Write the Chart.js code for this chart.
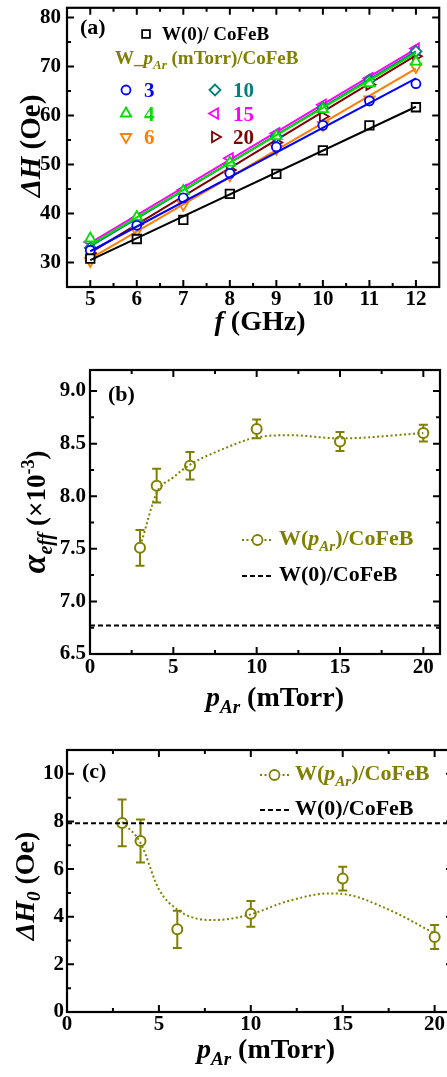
<!DOCTYPE html>
<html>
<head>
<meta charset="utf-8">
<script src="https://cdn.jsdelivr.net/npm/chart.js@4.4.1/dist/chart.umd.min.js"></script>
<style>
html, body { margin: 0; padding: 0; background: #fff; overflow: hidden; width: 447px; height: 1077px; }
canvas { position: absolute; left: 0; }
</style>
</head>
<body>
<canvas id="cA" width="447" height="340" style="top:0px"></canvas>
<canvas id="cB" width="447" height="380" style="top:340px"></canvas>
<canvas id="cC" width="460" height="357" style="top:720px"></canvas>
<script>
// ---------- data (a) : linewidth vs frequency ----------
const freq = [5, 6, 7, 8, 9, 10, 11, 12];
const fitFreq = [5, 12];
const dhW0  = [30.8, 34.8, 38.7, 44.0, 48.1, 52.9, 58.0, 61.7];
const dhP3  = [32.5, 37.6, 43.2, 48.2, 53.6, 58.0, 63.0, 66.5];
const dhP4  = [34.9, 39.3, 44.6, 50.4, 55.8, 61.3, 66.6, 71.0];
const dhP6  = [30.3, 36.4, 41.8, 47.8, 53.2, 58.1, 63.3, 69.9];
const dhP10 = [33.0, 38.5, 44.2, 50.0, 55.7, 61.6, 67.2, 73.1];
const dhP15 = [34.2, 39.0, 44.8, 51.3, 56.4, 62.2, 67.6, 73.7];
const dhP20 = [31.9, 37.8, 43.0, 48.9, 54.5, 59.8, 66.3, 72.1];
// fitted line ends (at 5 and 12 GHz)
const fitW0  = [30.5, 61.8];
const fitP3  = [32.3, 67.6];
const fitP4  = [33.6, 72.8];
const fitP6  = [30.8, 69.6];
const fitP10 = [33.3, 73.1];
const fitP15 = [34.0, 73.6];
const fitP20 = [32.0, 72.3];
const legendNums = ['3', '4', '6', '10', '15', '20'];

// ---------- data (b) and (c) : vs Ar pressure ----------
const pAr = [3, 4, 6, 10, 15, 20];
const alphaEff = [7.51, 8.10, 8.29, 8.64, 8.52, 8.60];
const alphaErr = [0.17, 0.16, 0.13, 0.09, 0.09, 0.08];
const alphaW0 = 6.77;
const alphaCurveX = [3.1, 4, 5, 6, 8, 10, 12, 15, 20];
const alphaCurveY = [7.57, 8.03, 8.18, 8.30, 8.45, 8.56, 8.58, 8.55, 8.60];
const dH0 = [7.94, 7.18, 3.47, 4.12, 5.60, 3.15];
const dH0Err = [0.98, 0.90, 0.78, 0.54, 0.50, 0.50];
const dH0W0 = 7.92;
const dH0CurveX = [3, 4, 5, 6, 7, 8, 9, 10, 12, 14.3, 15, 17.5, 20];
const dH0CurveY = [7.98, 7.10, 5.15, 4.30, 3.93, 3.86, 3.93, 4.10, 4.65, 4.98, 4.96, 4.30, 3.30];

// ticks
const ticksAx = [5, 6, 7, 8, 9, 10, 11, 12];
const minorAx = [5.5, 6.5, 7.5, 8.5, 9.5, 10.5, 11.5];
const ticksAy = [30, 40, 50, 60, 70, 80];
const minorAy = [35, 45, 55, 65, 75];
const ticksPx = [0, 5, 10, 15, 20];
const minorPx = [2.5, 7.5, 12.5, 17.5];
const ticksBy = [6.5, 7.0, 7.5, 8.0, 8.5, 9.0];
const minorBy = [6.75, 7.25, 7.75, 8.25, 8.75];
const ticksCy = [0, 2, 4, 6, 8, 10];
const minorCy = [1, 3, 5, 7, 9];

const OLIVE = '#808000';
const FONT = '"Liberation Serif", "Times New Roman", serif';
const tickFont = { family: FONT, size: 21, weight: 'bold' };

function fontOf(r) {
  return (r.i ? 'italic ' : '') + 'bold ' + r.s + 'px ' + FONT;
}

// draw a row of text runs (italic / sub / superscripts)
function drawRuns(ctx, runs, x, y, align, rot, color) {
  ctx.save();
  ctx.translate(x, y);
  if (rot) ctx.rotate(rot);
  ctx.textBaseline = 'alphabetic';
  ctx.textAlign = 'left';
  let w = 0;
  runs.forEach(r => { ctx.font = fontOf(r); r.w = ctx.measureText(r.t).width; w += r.w; });
  let cx = align === 'center' ? -w / 2 : 0;
  runs.forEach(r => {
    ctx.font = fontOf(r);
    ctx.fillStyle = r.c || color || '#000';
    ctx.fillText(r.t, cx, r.dy || 0);
    cx += r.w;
  });
  ctx.restore();
}

function marker(ctx, style, rot, color, x, y, r) {
  ctx.save();
  ctx.strokeStyle = color;
  ctx.fillStyle = '#fff';
  ctx.lineWidth = 1.8;
  Chart.helpers.drawPoint(ctx, { pointStyle: style, radius: r, rotation: rot, borderWidth: 1.8 }, x, y);
  ctx.restore();
}

const decor = {
  id: 'decor',
  beforeDatasetsDraw(chart, args, o) {
    if (!o.err) return;
    const { ctx, scales: { x, y } } = chart;
    ctx.save();
    ctx.strokeStyle = OLIVE;
    ctx.lineWidth = 2;
    ctx.beginPath();
    o.err.x.forEach((v, i) => {
      const px = x.getPixelForValue(v);
      const y1 = y.getPixelForValue(o.err.y[i] + o.err.e[i]);
      const y2 = y.getPixelForValue(o.err.y[i] - o.err.e[i]);
      ctx.moveTo(px, y1); ctx.lineTo(px, y2);
      ctx.moveTo(px - 4.5, y1); ctx.lineTo(px + 4.5, y1);
      ctx.moveTo(px - 4.5, y2); ctx.lineTo(px + 4.5, y2);
    });
    ctx.stroke();
    ctx.restore();
  },
  afterDraw(chart, args, o) {
    const { ctx, chartArea: a, scales: { x, y } } = chart;
    ctx.save();
    ctx.strokeStyle = '#000';
    ctx.lineWidth = 2;
    ctx.beginPath();
    const mark = (vals, len, isX) => vals.forEach(v => {
      if (isX) {
        const px = x.getPixelForValue(v);
        ctx.moveTo(px, a.bottom); ctx.lineTo(px, a.bottom - len);
        ctx.moveTo(px, a.top); ctx.lineTo(px, a.top + len);
      } else {
        const py = y.getPixelForValue(v);
        ctx.moveTo(a.left, py); ctx.lineTo(a.left + len, py);
        ctx.moveTo(a.right, py); ctx.lineTo(a.right - len, py);
      }
    });
    mark(o.xMajor, 7, true); mark(o.xMinor, 4, true);
    mark(o.yMajor, 7, false); mark(o.yMinor, 4, false);
    ctx.stroke();
    ctx.lineWidth = 2.2;
    ctx.strokeRect(a.left, a.top, a.right - a.left, a.bottom - a.top);
    ctx.restore();

    drawRuns(ctx, o.xTitle.runs, o.xTitle.x, o.xTitle.y, 'center', 0);
    drawRuns(ctx, o.yTitle.runs, o.yTitle.x, o.yTitle.y, 'center', -Math.PI / 2);
    drawRuns(ctx, [{ t: o.panel.t, s: 22 }], o.panel.x, o.panel.y, 'left', 0);
    if (o.legend) o.legend(ctx);
  }
};

function xScale(min, max, ticks, h, pad) {
  return {
    type: 'linear', min: min, max: max,
    grid: { display: false, drawTicks: false }, border: { display: false },
    afterBuildTicks: s => { s.ticks = ticks.map(v => ({ value: v })); },
    afterFit: s => { s.height = h; s.paddingLeft = 0; s.paddingRight = 0; },
    ticks: { padding: pad, color: '#000', font: tickFont, maxRotation: 0, autoSkip: false }
  };
}
function yScale(min, max, ticks, w, pad, fmt) {
  return {
    type: 'linear', min: min, max: max,
    grid: { display: false, drawTicks: false }, border: { display: false },
    afterBuildTicks: s => { s.ticks = ticks.map(v => ({ value: v })); },
    afterFit: s => { s.width = w; s.paddingTop = 0; s.paddingBottom = 0; },
    ticks: { padding: pad, color: '#000', font: tickFont, autoSkip: false, callback: fmt }
  };
}

// ======================
// (a) ΔH vs f
// ======================
const seriesA = [
  { vals: dhW0,  fit: fitW0,  color: '#000000', style: 'rect',     rot: 0,   r: 6 },
  { vals: dhP3,  fit: fitP3,  color: '#0000ff', style: 'circle',   rot: 0,   r: 4.5 },
  { vals: dhP4,  fit: fitP4,  color: '#00dd00', style: 'triangle', rot: 0,   r: 6 },
  { vals: dhP6,  fit: fitP6,  color: '#ff7f00', style: 'triangle', rot: 180, r: 6 },
  { vals: dhP10, fit: fitP10, color: '#008080', style: 'rectRot',  rot: 0,   r: 5.5 },
  { vals: dhP20, fit: fitP20, color: '#800000', style: 'triangle', rot: 90,  r: 6 },
  { vals: dhP15, fit: fitP15, color: '#ff00ff', style: 'triangle', rot: -90, r: 6 }
];
const dsA = [];
seriesA.forEach(s => {
  dsA.push({
    data: fitFreq.map((f, i) => ({ x: f, y: s.fit[i] })),
    borderColor: s.color, borderWidth: 2, pointRadius: 0, showLine: true
  });
  dsA.push({
    data: freq.map((f, i) => ({ x: f, y: s.vals[i] })),
    borderColor: s.color, backgroundColor: '#fff', showLine: false,
    pointStyle: s.style, rotation: s.rot, pointRadius: s.r, pointBorderWidth: 1.8
  });
});

// legend entries (a): order of reference legend
const legA = [
  { color: '#0000ff', style: 'circle',   rot: 0,   r: 4.5 },
  { color: '#00dd00', style: 'triangle', rot: 0,   r: 6 },
  { color: '#ff7f00', style: 'triangle', rot: 180, r: 6 },
  { color: '#008080', style: 'rectRot',  rot: 0,   r: 5.5 },
  { color: '#ff00ff', style: 'triangle', rot: -90, r: 6 },
  { color: '#800000', style: 'triangle', rot: 90,  r: 6 }
];

new Chart(document.getElementById('cA'), {
  type: 'scatter',
  data: { datasets: dsA },
  options: {
    responsive: false, animation: false,
    layout: { padding: { top: 5, right: 1, left: 0, bottom: 0 } },
    plugins: {
      legend: { display: false }, tooltip: { enabled: false },
      decor: {
        xMajor: ticksAx, xMinor: minorAx, yMajor: ticksAy, yMinor: minorAy,
        xTitle: { x: 260, y: 330, runs: [{ t: 'f', s: 28, i: 1 }, { t: ' (GHz)', s: 28 }] },
        yTitle: { x: 40, y: 146, runs: [{ t: 'ΔH', s: 29, i: 1 }, { t: ' (Oe)', s: 29 }] },
        panel: { t: '(a)', x: 80, y: 34 },
        legend: ctx => {
          marker(ctx, 'rect', 0, '#000', 146, 34, 5.5);
          drawRuns(ctx, [{ t: 'W(0)/ CoFeB', s: 19 }], 162, 40, 'left', 0);
          drawRuns(ctx, [{ t: 'W_', s: 19 }, { t: 'p', s: 19, i: 1 }, { t: 'Ar', s: 13, i: 1, dy: 5 },
            { t: ' (mTorr)/CoFeB', s: 19 }], 115, 64, 'left', 0, OLIVE);
          legA.forEach((l, i) => {
            const col = i < 3 ? 0 : 1, row = i % 3;
            const sx = col ? 215 : 126, tx = col ? 233 : 144, by = 97 + row * 23.5;
            marker(ctx, l.style, l.rot, l.color, sx, by - 7, l.r);
            drawRuns(ctx, [{ t: legendNums[i], s: 21 }], tx, by, 'left', 0, l.color);
          });
        }
      }
    },
    scales: {
      x: xScale(4.5, 12.5, ticksAx, 53, 0),
      y: yScale(25, 82, ticksAy, 67, 6)
    }
  },
  plugins: [decor]
});

// ======================
// (b) alpha_eff vs pAr
// ======================
function olivePanel(id, vals, errs, ref, cx, cy, xMax, yMin, yMax, yTicks, yMinor, fmt, geo) {
  return new Chart(document.getElementById(id), {
    type: 'scatter',
    data: {
      datasets: [
        { data: [{ x: 0, y: ref }, { x: xMax, y: ref }], showLine: true, pointRadius: 0,
          borderColor: '#000', borderWidth: 2, borderDash: [5, 3] },
        { data: cx.map((v, i) => ({ x: v, y: cy[i] })), showLine: true, pointRadius: 0,
          borderColor: OLIVE, borderWidth: 2, borderDash: [2, 2.5], cubicInterpolationMode: 'monotone' },
        { data: pAr.map((v, i) => ({ x: v, y: vals[i] })), showLine: false,
          pointStyle: 'circle', pointRadius: 5, pointBorderWidth: 2,
          borderColor: OLIVE, backgroundColor: '#fff' }
      ]
    },
    options: {
      responsive: false, animation: false,
      layout: { padding: { top: 30, right: geo.padR, left: 0, bottom: 0 } },
      plugins: {
        legend: { display: false }, tooltip: { enabled: false },
        decor: {
          err: { x: pAr, y: vals, e: errs },
          xMajor: ticksPx, xMinor: minorPx, yMajor: yTicks, yMinor: yMinor,
          xTitle: { x: geo.xtX, y: geo.xtY, runs: [{ t: 'p', s: 28, i: 1 }, { t: 'Ar', s: 19, i: 1, dy: 7 }, { t: ' (mTorr)', s: 28 }] },
          yTitle: geo.yTitle,
          panel: geo.panel,
          legend: ctx => {
            const L = geo.leg;
            ctx.save();
            ctx.lineWidth = 2;
            ctx.strokeStyle = OLIVE;
            ctx.setLineDash([2, 2.5]);
            ctx.beginPath(); ctx.moveTo(L.x1, L.y1); ctx.lineTo(L.x2, L.y1); ctx.stroke();
            ctx.setLineDash([5, 3]);
            ctx.strokeStyle = '#000';
            ctx.beginPath(); ctx.moveTo(L.x1, L.y2); ctx.lineTo(L.x2, L.y2); ctx.stroke();
            ctx.restore();
            marker(ctx, 'circle', 0, OLIVE, (L.x1 + L.x2) / 2, L.y1, 5);
            drawRuns(ctx, [{ t: 'W(', s: 22 }, { t: 'p', s: 22, i: 1 }, { t: 'Ar', s: 15, i: 1, dy: 6 },
              { t: ')/CoFeB', s: 22 }], L.tx, L.y1 + 5, 'left', 0, OLIVE);
            drawRuns(ctx, [{ t: 'W(0)/CoFeB', s: 22 }], L.tx, L.y2 + 5, 'left', 0, '#000');
          }
        }
      },
      scales: {
        x: xScale(0, xMax, ticksPx, geo.xh, geo.xpad),
        y: yScale(yMin, yMax, yTicks, geo.yw, geo.ypad, fmt)
      }
    },
    plugins: [decor]
  });
}

olivePanel('cB', alphaEff, alphaErr, alphaW0, alphaCurveX, alphaCurveY, 21, 6.5, 9.2,
  ticksBy, minorBy, v => v.toFixed(1), {
    padR: 2, xh: 66, yw: 90, xpad: 1, ypad: 4, xtX: 275, xtY: 366,
    yTitle: { x: 45, y: 172, runs: [{ t: 'α', s: 34, i: 1 }, { t: 'eff', s: 20, i: 1, dy: 7 }, { t: ' (×10', s: 27 },
      { t: '-3', s: 18, dy: -11 }, { t: ')', s: 27 }] },
    panel: { t: '(b)', x: 108, y: 61 },
    leg: { x1: 242, x2: 273, y1: 200, y2: 236, tx: 279 }
  });

// ======================
// (c) ΔH0 vs pAr
// ======================
olivePanel('cC', dH0, dH0Err, dH0W0, dH0CurveX, dH0CurveY, 21, 0, 11,
  ticksCy, minorCy, v => String(v), {
    padR: 1, xh: 65, yw: 67, xpad: 0, ypad: 3, xtX: 266, xtY: 338,
    yTitle: { x: 34, y: 166, runs: [{ t: 'ΔH', s: 28, i: 1 }, { t: '0', s: 19, i: 1, dy: 6 }, { t: ' (Oe)', s: 28 }] },
    panel: { t: '(c)', x: 82, y: 58 },
    leg: { x1: 260, x2: 289, y1: 55, y2: 90, tx: 295 }
  });
</script>
</body>
</html>
